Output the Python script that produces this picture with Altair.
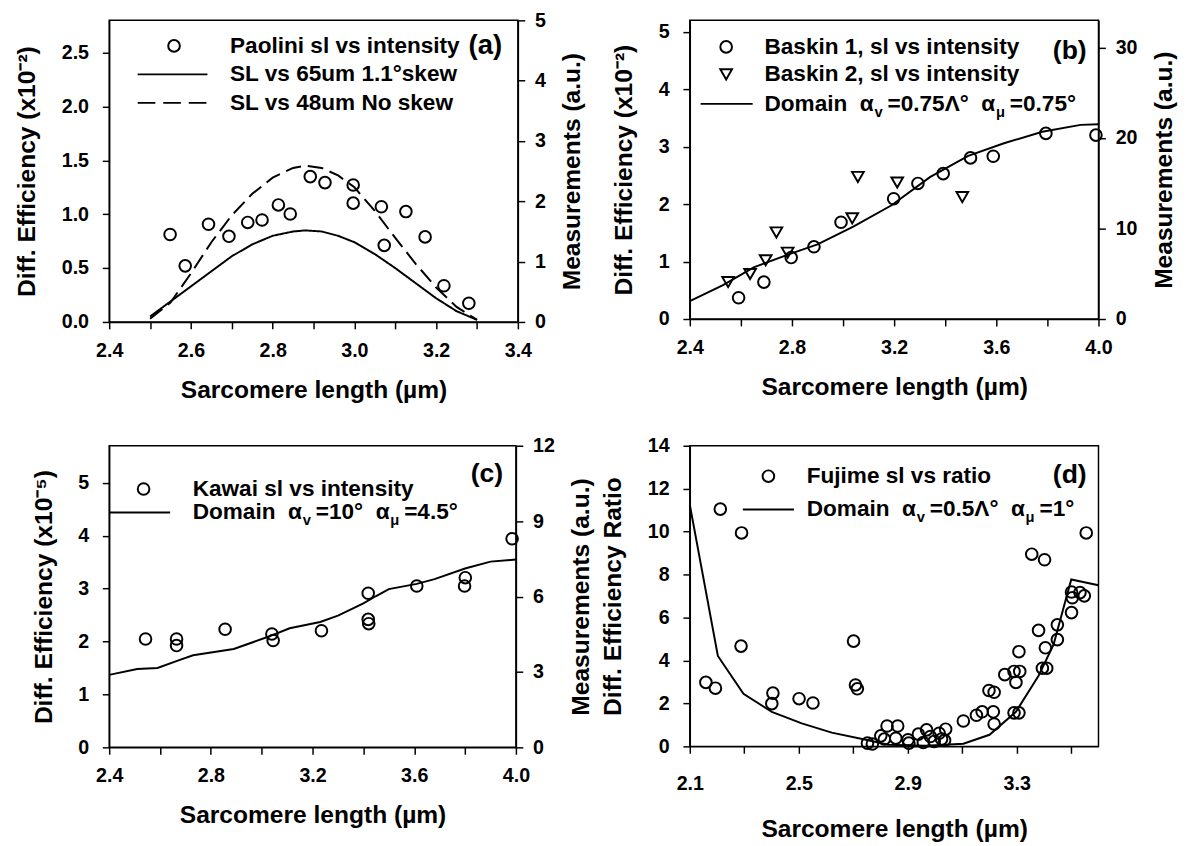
import altair as alt
import pandas as pd

FONT = "Liberation Sans"
XTITLE = "Sarcomere length (µm)"

# ---------------- Panel (a) ----------------
a_pts_x = [2.549, 2.586, 2.643, 2.693, 2.739, 2.774, 2.814, 2.843, 2.892, 2.928,
           2.997, 2.997, 3.066, 3.073, 3.126, 3.173, 3.219, 3.280]
a_pts_y = [1.45, 0.93, 1.62, 1.42, 1.65, 1.69, 1.94, 1.79, 2.41, 2.31,
           2.27, 1.97, 1.91, 1.27, 1.83, 1.41, 0.60, 0.31]
a_line_x = [2.50, 2.55, 2.60, 2.65, 2.70, 2.75, 2.80, 2.85, 2.88, 2.92,
            2.96, 3.00, 3.05, 3.10, 3.15, 3.20, 3.25, 3.30]
a_solid_y = [0.05, 0.19, 0.33, 0.47, 0.61, 0.72, 0.80, 0.84, 0.85, 0.84,
             0.80, 0.74, 0.63, 0.50, 0.36, 0.22, 0.10, 0.02]
a_dash_y = [0.03, 0.18, 0.45, 0.74, 0.99, 1.19, 1.34, 1.43, 1.45, 1.43,
            1.36, 1.25, 1.03, 0.78, 0.54, 0.32, 0.14, 0.02]

# ---------------- Panel (b) ----------------
b_c_x = [2.591, 2.690, 2.797, 2.886, 2.992, 3.198, 3.293, 3.392, 3.499, 3.588, 3.794, 3.990]
b_c_y = [2.35, 4.08, 6.79, 7.98, 10.69, 13.29, 14.98, 16.06, 17.80, 17.98, 20.51, 20.32]
b_t_x = [2.550, 2.636, 2.697, 2.739, 2.783, 3.036, 3.058, 3.212, 3.467]
b_t_y = [4.08, 4.98, 6.50, 9.57, 7.33, 11.12, 15.70, 15.09, 13.47]
b_line_x = [2.40, 2.53, 2.65, 2.79, 2.90, 3.04, 3.19, 3.34, 3.49, 3.63, 3.78, 3.93, 4.00]
b_line_y = [0.31, 0.59, 0.90, 1.13, 1.30, 1.61, 1.98, 2.47, 2.84, 3.06, 3.26, 3.38, 3.39]

# ---------------- Panel (c) ----------------
c_pts_x = [2.543, 2.665, 2.665, 2.856, 3.040, 3.045, 3.235, 3.419, 3.419, 3.421,
           3.610, 3.798, 3.801, 3.985]
c_pts_y = [4.31, 4.31, 4.05, 4.70, 4.51, 4.25, 4.64, 6.13, 5.09, 4.92,
           6.42, 6.42, 6.75, 8.30]
c_line_x = [2.40, 2.51, 2.59, 2.67, 2.73, 2.89, 3.02, 3.11, 3.23, 3.30,
            3.40, 3.45, 3.50, 3.61, 3.68, 3.80, 3.90, 4.00]
c_line_y = [1.37, 1.48, 1.50, 1.64, 1.74, 1.86, 2.08, 2.25, 2.37, 2.49,
            2.72, 2.86, 2.99, 3.09, 3.18, 3.38, 3.51, 3.55]

# ---------------- Panel (d) ----------------
d_pts_x = [2.159, 2.194, 2.212, 2.290, 2.288, 2.405, 2.401, 2.501, 2.552, 2.701,
           2.708, 2.715, 2.752, 2.770, 2.801, 2.814, 2.824, 2.863, 2.856, 2.901,
           2.904, 2.939, 2.957, 2.969, 2.983, 2.997, 3.015, 3.024, 3.039, 3.035,
           3.104, 3.152, 3.173, 3.198, 3.217, 3.214, 3.217, 3.256, 3.290, 3.297,
           3.311, 3.308, 3.290, 3.308, 3.355, 3.402, 3.380, 3.394, 3.410, 3.405,
           3.449, 3.449, 3.501, 3.504, 3.501, 3.532, 3.548, 3.555]
d_pts_y = [2.98, 2.71, 11.05, 9.94, 4.67, 2.48, 1.99, 2.22, 2.02, 4.90,
           2.86, 2.68, 0.15, 0.11, 0.49, 0.34, 0.95, 0.95, 0.38, 0.31,
           0.15, 0.57, 0.18, 0.77, 0.46, 0.23, 0.61, 0.34, 0.80, 0.28,
           1.18, 1.45, 1.61, 2.60, 2.52, 1.61, 1.04, 3.34, 3.49, 2.98,
           3.49, 4.41, 1.56, 1.56, 8.95, 8.69, 5.40, 3.64, 3.64, 4.59,
           5.66, 4.97, 7.19, 6.92, 6.23, 7.16, 7.01, 9.94]
d_line_x = [2.10, 2.203, 2.297, 2.401, 2.511, 2.621, 2.746, 2.828, 2.966, 3.104,
            3.200, 3.297, 3.380, 3.435, 3.500, 3.600]
d_line_y = [11.25, 4.21, 2.45, 1.61, 1.07, 0.64, 0.31, 0.08, 0.03, 0.12,
            0.54, 1.61, 3.29, 4.74, 7.77, 7.50]

# ---------------- helpers ----------------
NB = "\u00a0"
EM = {' ': .278, NB: .278, '=': .584, '.': .278, '°': .4, 'α': .60, 'Λ': .667, 'v': .556,
      'μ': .611, 'D': .722, 'o': .611, 'm': .889, 'a': .556, 'i': .278, 'n': .611}


def tw(s, size):
    return sum(EM.get(ch, .556) for ch in s) * size


LEG = 23
SUB = 15
BLACK = "black"


def txt(s, px, py, size=LEG, align="left"):
    return alt.Chart(pd.DataFrame({"t": [s]})).mark_text(
        align=align, baseline="middle", font=FONT, fontWeight="bold",
        fontSize=size, color=BLACK).encode(text="t:N", x=alt.value(px), y=alt.value(py))


def rich(pieces, px, py):
    out = []
    x = px
    for s, sub in pieces:
        s = s.replace(" ", NB)
        if sub:
            out.append(txt(s, x + 1, py + 8, SUB))
            x += tw(s, SUB) + 6
        else:
            out.append(txt(s, x, py))
            x += tw(s, LEG)
    return out


def sym(shape, px, py, size=140):
    return alt.Chart(pd.DataFrame({"t": [0]})).mark_point(
        shape=shape, size=size, filled=False, color=BLACK, strokeWidth=2, opacity=1
    ).encode(x=alt.value(px), y=alt.value(py))


def seg(x1, x2, py, dash=None):
    kw = {"strokeDash": dash} if dash else {}
    return alt.Chart(pd.DataFrame({"t": [0]})).mark_rule(
        color=BLACK, strokeWidth=2, **kw).encode(
        x=alt.value(x1), x2=alt.value(x2), y=alt.value(py))


def xaxis(ticks, labels, lpad=12, pad=18):
    lab = "[" + ",".join("'%s'" % l for l in labels) + "]"
    return alt.Axis(values=ticks, title=XTITLE, labelFlush=False, labelOverlap=False,
                    labelExpr="indexof(%s, format(datum.value, '.1f')) >= 0 ? format(datum.value, '.1f') : ''" % lab,
                    labelPadding=lpad, titlePadding=pad)


def laxis(ticks, title, fmt):
    return alt.Axis(values=ticks, title=title, format=fmt, labelFlush=False,
                    labelOverlap=False, labelPadding=14, titlePadding=22)


def raxis(ticks, title):
    return alt.Axis(values=ticks, title=title, orient="right", labelFlush=False,
                    labelOverlap=False, labelPadding=10, titlePadding=15,
                    titleAngle=270, titleBaseline="top")


def pt_style(shape="circle", size=140):
    return dict(shape=shape, size=size, filled=False, color=BLACK, strokeWidth=2, opacity=1)


# ---------------- build (a) ----------------
a_x_ticks = [2.4, 2.5, 2.6, 2.7, 2.8, 2.9, 3.0, 3.1, 3.2, 3.3, 3.4]
a_x_labels = ["2.4", "2.6", "2.8", "3.0", "3.2", "3.4"]
a_lines = pd.DataFrame({
    "x": a_line_x + a_line_x,
    "y": a_solid_y + a_dash_y,
    "s": ["SL vs 65um 1.1°skew"] * len(a_line_x) + ["SL vs 48um No skew"] * len(a_line_x),
})
xa = alt.X("x:Q", scale=alt.Scale(domain=[2.4, 3.4], nice=False, zero=False), axis=xaxis(a_x_ticks, a_x_labels))
a_line = alt.Chart(a_lines).mark_line(color=BLACK, strokeWidth=2).encode(
    x=xa,
    y=alt.Y("y:Q", scale=alt.Scale(domain=[0, 2.8], nice=False),
            axis=laxis([0, 0.5, 1.0, 1.5, 2.0, 2.5], "Diff. Efficiency (x10⁻²)", ".1f")),
    strokeDash=alt.StrokeDash("s:N", legend=None, scale=alt.Scale(
        domain=["SL vs 65um 1.1°skew", "SL vs 48um No skew"], range=[[1, 0], [16, 7]])),
)
a_pts = alt.Chart(pd.DataFrame({"x": a_pts_x, "m": a_pts_y})).mark_point(**pt_style()).encode(
    x=alt.X("x:Q", scale=alt.Scale(domain=[2.4, 3.4], nice=False, zero=False)),
    y=alt.Y("m:Q", scale=alt.Scale(domain=[0, 5], nice=False),
            axis=raxis([0, 1, 2, 3, 4, 5], "Measurements (a.u.)")),
)
a_leg = [sym("circle", 66, 26), txt("Paolini sl vs intensity", 123, 26),
         txt("(a)", 400, 26, 28, "right"),
         seg(29, 100, 55), txt("SL vs 65um 1.1°skew", 123, 55),
         seg(29, 100, 84, [18, 8]), txt("SL vs 48um No skew", 123, 84)]
pa = alt.layer(a_line, a_pts, *a_leg).resolve_scale(y="independent").properties(width=416, height=307)

# ---------------- build (b) ----------------
bc_x_ticks = [2.4, 2.6, 2.8, 3.0, 3.2, 3.4, 3.6, 3.8, 4.0]
bc_x_labels = ["2.4", "2.8", "3.2", "3.6", "4.0"]
xb = alt.X("x:Q", scale=alt.Scale(domain=[2.4, 4.0], nice=False, zero=False), axis=xaxis(bc_x_ticks, bc_x_labels))
b_line = alt.Chart(pd.DataFrame({"x": b_line_x, "y": b_line_y})).mark_line(color=BLACK, strokeWidth=2).encode(
    x=xb,
    y=alt.Y("y:Q", scale=alt.Scale(domain=[0, 5.2], nice=False),
            axis=laxis([0, 1, 2, 3, 4, 5], "Diff. Efficiency  (x10⁻²)", "d")),
)
b_df = pd.DataFrame({"x": b_c_x + b_t_x, "m": b_c_y + b_t_y,
                     "s": ["Baskin 1"] * len(b_c_x) + ["Baskin 2"] * len(b_t_x)})
b_pts = alt.Chart(b_df).mark_point(filled=False, color=BLACK, strokeWidth=2, opacity=1, size=140).encode(
    x=alt.X("x:Q", scale=alt.Scale(domain=[2.4, 4.0], nice=False, zero=False)),
    y=alt.Y("m:Q", scale=alt.Scale(domain=[0, 33], nice=False),
            axis=raxis([0, 10, 20, 30], "Measurements (a.u.)")),
    shape=alt.Shape("s:N", legend=None, scale=alt.Scale(domain=["Baskin 1", "Baskin 2"],
                                                         range=["circle", "triangle-down"])),
)
b_leg = [sym("circle", 37, 27), txt("Baskin 1, sl vs intensity", 76, 27),
         txt("(b)", 404, 31, 27, "right"),
         sym("triangle-down", 37, 55, 140), txt("Baskin 2, sl vs intensity", 76, 55),
         seg(11, 64, 85)] + rich([("Domain  α", False), ("v", True), ("=0.75Λ°  α", False),
                                  ("μ", True), ("=0.75°", False)], 76, 85)
pb = alt.layer(b_line, b_pts, *b_leg).resolve_scale(y="independent").properties(width=416, height=304)

# ---------------- build (c) ----------------
xc = alt.X("x:Q", scale=alt.Scale(domain=[2.4, 4.0], nice=False, zero=False), axis=xaxis(bc_x_ticks, bc_x_labels))
c_line = alt.Chart(pd.DataFrame({"x": c_line_x, "y": c_line_y})).mark_line(color=BLACK, strokeWidth=2).encode(
    x=xc,
    y=alt.Y("y:Q", scale=alt.Scale(domain=[0, 5.7], nice=False),
            axis=laxis([0, 1, 2, 3, 4, 5], "Diff. Efficiency (x10⁻⁵)", "d")),
)
c_pts = alt.Chart(pd.DataFrame({"x": c_pts_x, "m": c_pts_y})).mark_point(**pt_style()).encode(
    x=alt.X("x:Q", scale=alt.Scale(domain=[2.4, 4.0], nice=False, zero=False)),
    y=alt.Y("m:Q", scale=alt.Scale(domain=[0, 12], nice=False),
            axis=raxis([0, 3, 6, 9, 12], "Measurements (a.u.)")),
)
c_leg = [sym("circle", 35, 44), txt("Kawai sl vs intensity", 85, 44),
         txt("(c)", 401, 29, 27, "right"),
         seg(0, 62, 68)] + rich([("Domain  α", False), ("v", True), ("=10°  α", False),
                                 ("μ", True), ("=4.5°", False)], 85, 68)
pc = alt.layer(c_line, c_pts, *c_leg).resolve_scale(y="independent").properties(width=414, height=307)

# ---------------- build (d) ----------------
d_x_ticks = [2.1, 2.3, 2.5, 2.7, 2.9, 3.1, 3.3, 3.5]
d_x_labels = ["2.1", "2.5", "2.9", "3.3"]
xd = alt.X("x:Q", scale=alt.Scale(domain=[2.1, 3.6], nice=False, zero=False),
           axis=xaxis(d_x_ticks, d_x_labels, 21, 24))
yd = alt.Y("y:Q", scale=alt.Scale(domain=[0, 14], nice=False),
           axis=laxis([0, 2, 4, 6, 8, 10, 12, 14], "Diff. Efficiency Ratio", "d"))
d_line = alt.Chart(pd.DataFrame({"x": d_line_x, "y": d_line_y})).mark_line(color=BLACK, strokeWidth=2).encode(x=xd, y=yd)
d_pts = alt.Chart(pd.DataFrame({"x": d_pts_x, "y": d_pts_y})).mark_point(**pt_style()).encode(x=xd, y=yd)
d_leg = [sym("circle", 80, 31), txt("Fujime sl vs ratio", 119, 31),
         txt("(d)", 404, 30, 27, "right"),
         seg(54, 106, 65)] + rich([("Domain  α", False), ("v", True), ("=0.5Λ°  α", False),
                                   ("μ", True), ("=1°", False)], 119, 65)
pd_ = alt.layer(d_line, d_pts, *d_leg).properties(width=416, height=306)

chart = alt.concat(pa, pb, pc, pd_, columns=2, bounds="flush",
                   spacing={"row": 126, "column": 175}).properties(
    padding={"left": 6, "top": -6, "right": 5, "bottom": 5}, background="white"
).configure_view(stroke=BLACK, strokeWidth=1.5).configure_axis(
    labelFont=FONT, titleFont=FONT, labelFontWeight="bold", titleFontWeight="bold",
    labelFontSize=20, titleFontSize=25, labelColor=BLACK, titleColor=BLACK,
    domainColor=BLACK, tickColor=BLACK, domainWidth=1.5, tickWidth=1.5, tickSize=7, grid=False,
)

chart.save("out.html", embed_options={"renderer": "svg", "actions": False})
